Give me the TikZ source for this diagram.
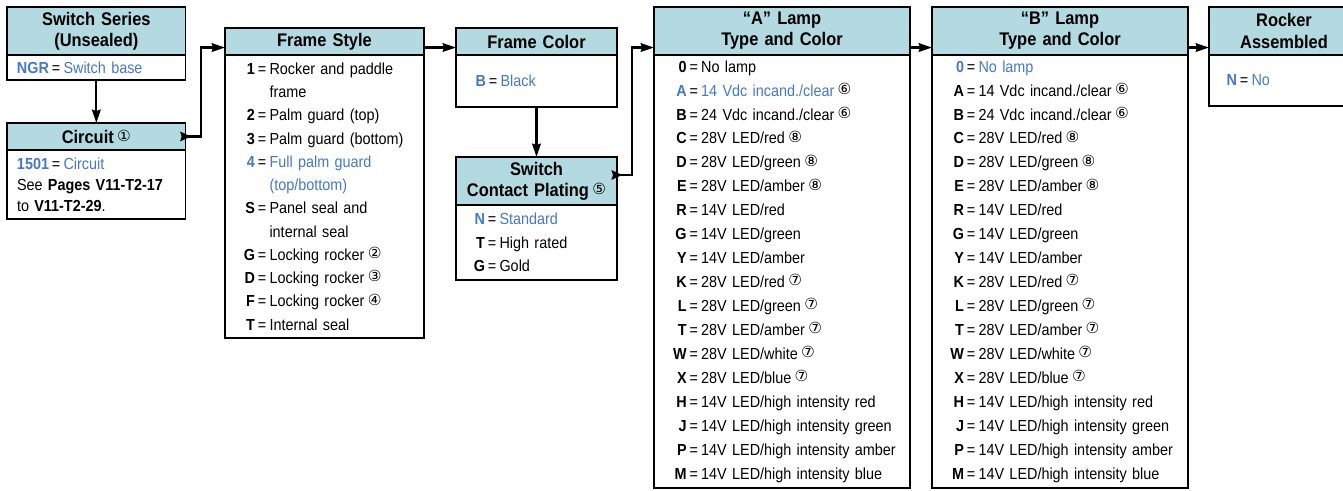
\documentclass[tikz,border=0pt]{standalone}
\usepackage{fontspec}
\setmainfont{Liberation Sans}[FakeStretch=0.9]
\newfontfamily\circfont{DejaVu Sans}
\usetikzlibrary{positioning,arrows.meta}

\definecolor{hdrfill}{RGB}{178,218,224}
\definecolor{optblue}{RGB}{70,120,196}

\newlength{\optind}
\newcommand{\eq}{\hspace{2.2pt}=\hspace{2.4pt}}
\newcommand{\opt}[2]{\hspace*{\optind}\makebox[9pt][r]{\textbf{#1}}\eq #2}
\newcommand{\optb}[2]{\hspace*{\optind}\makebox[9pt][r]{\textbf{\color{optblue}#1}}\eq{\color{optblue}#2}}
\newcommand{\cont}[1]{\hspace*{\optind}\makebox[9pt]{}\phantom{\eq}#1}
\newcommand{\txt}[1]{\hspace*{\optind}#1}
\newcommand{\fn}[1]{\hspace{2.5pt}\raisebox{0.2ex}{\circfont\mdseries\fontsize{11.5}{11.5}\selectfont #1}}

\begin{document}
\begin{tikzpicture}[
    x=0.75pt, y=-0.75pt,
    every node/.style={outer sep=0pt},
    hdr/.style={draw, fill=hdrfill, line width=0.9pt, align=center, inner sep=0pt, font=\fontsize{13.7}{15.8}\selectfont\bfseries},
    body/.style={draw, line width=0.9pt, align=left, inner xsep=2pt, inner ysep=0pt, font=\fontsize{12}{17.7}\selectfont},
    ind/.style={execute at begin node={\setlength{\optind}{#1}}},
    arr/.style={-{Stealth[length=10pt, width=6.5pt, inset=1pt]}, line width=1.6pt},
    arrs/.style={{Stealth[reversed, length=8pt, width=7pt, inset=1pt]}-{Stealth[length=10pt, width=6.5pt, inset=1pt]}, line width=1.6pt}
]
\useasboundingbox (0,0) rectangle (1343,491);

% switch series and circuit
\node[hdr, text width=134pt, minimum height=36pt, anchor=north west] (ssh) at (7,7) {Switch Series\\(Unsealed)};
\node[body, text width=130pt, minimum height=18.75pt, below=0pt of ssh, ind=5.5pt] (ssb) {\txt{\textbf{\color{optblue}NGR}\eq{\color{optblue}Switch base}}};
\node[hdr, text width=134pt, minimum height=20.25pt, below=32.25pt of ssb] (circh) {Circuit\fn{①}};
\node[body, text width=130pt, minimum height=51.75pt, below=0pt of circh, ind=5.5pt, font=\fontsize{12}{15.6}\selectfont] (circb) {\txt{\textbf{\color{optblue}1501}\eq{\color{optblue}Circuit}}\\
    \txt{See \textbf{Pages V11-T2-17}}\\
    \txt{to \textbf{V11-T2-29}.}};

% frame
\node[hdr, text width=149.25pt, minimum height=20.25pt, anchor=north west] (fsh) at (225,28) {Frame Style};
\node[body, text width=145.25pt, minimum height=212.25pt, below=0pt of fsh, ind=11.5pt, font=\fontsize{12}{17.45}\selectfont] (fsb) {\opt{1}{Rocker and paddle}\\
    \cont{frame}\\
    \opt{2}{Palm guard (top)}\\
    \opt{3}{Palm guard (bottom)}\\
    \optb{4}{Full palm guard}\\
    \cont{{\color{optblue}(top/bottom)}}\\
    \opt{S}{Panel seal and}\\
    \cont{internal seal}\\
    \opt{G}{Locking rocker}\fn{②}\\
    \opt{D}{Locking rocker}\fn{③}\\
    \opt{F}{Locking rocker}\fn{④}\\
    \opt{T}{Internal seal}};
\node[hdr, text width=120.75pt, minimum height=20.25pt, right=24pt of fsh] (fch) {Frame Color};
\node[body, text width=116.75pt, minimum height=39pt, below=0pt of fch, ind=11.5pt] (fcb) {\optb{B}{Black}};
\node[hdr, text width=120.75pt, minimum height=36pt, below=37.5pt of fcb] (scph) {Switch\\Contact Plating\fn{⑤}};
\node[body, text width=116.75pt, minimum height=56.25pt, below=0pt of scph, ind=10.75pt] (scpb) {\optb{N}{Standard}\\
    \opt{T}{High rated}\\
    \opt{G}{Gold}};

% lamps
\node[hdr, text width=192pt, minimum height=36pt, anchor=north west] (lah) at (654,7) {“A” Lamp\\Type and Color};
\node[body, text width=188pt, minimum height=324.75pt, below=0pt of lah, ind=13.5pt, font=\fontsize{12}{17.95}\selectfont] (lab) {\opt{0}{No lamp}\\
    \optb{A}{14 Vdc incand./clear}\fn{⑥}\\
    \opt{B}{24 Vdc incand./clear}\fn{⑥}\\
    \opt{C}{28V LED/red}\fn{⑧}\\
    \opt{D}{28V LED/green}\fn{⑧}\\
    \opt{E}{28V LED/amber}\fn{⑧}\\
    \opt{R}{14V LED/red}\\
    \opt{G}{14V LED/green}\\
    \opt{Y}{14V LED/amber}\\
    \opt{K}{28V LED/red}\fn{⑦}\\
    \opt{L}{28V LED/green}\fn{⑦}\\
    \opt{T}{28V LED/amber}\fn{⑦}\\
    \opt{W}{28V LED/white}\fn{⑦}\\
    \opt{X}{28V LED/blue}\fn{⑦}\\
    \opt{H}{14V LED/high intensity red}\\
    \opt{J}{14V LED/high intensity green}\\
    \opt{P}{14V LED/high intensity amber}\\
    \opt{M}{14V LED/high intensity blue}};
\node[hdr, text width=192pt, minimum height=36pt, right=16.5pt of lah] (lbh) {“B” Lamp\\Type and Color};
\node[body, text width=188pt, minimum height=324.75pt, below=0pt of lbh, ind=13pt, font=\fontsize{12}{17.95}\selectfont] (lbb) {\optb{0}{No lamp}\\
    \opt{A}{14 Vdc incand./clear}\fn{⑥}\\
    \opt{B}{24 Vdc incand./clear}\fn{⑥}\\
    \opt{C}{28V LED/red}\fn{⑧}\\
    \opt{D}{28V LED/green}\fn{⑧}\\
    \opt{E}{28V LED/amber}\fn{⑧}\\
    \opt{R}{14V LED/red}\\
    \opt{G}{14V LED/green}\\
    \opt{Y}{14V LED/amber}\\
    \opt{K}{28V LED/red}\fn{⑦}\\
    \opt{L}{28V LED/green}\fn{⑦}\\
    \opt{T}{28V LED/amber}\fn{⑦}\\
    \opt{W}{28V LED/white}\fn{⑦}\\
    \opt{X}{28V LED/blue}\fn{⑦}\\
    \opt{H}{14V LED/high intensity red}\\
    \opt{J}{14V LED/high intensity green}\\
    \opt{P}{14V LED/high intensity amber}\\
    \opt{M}{14V LED/high intensity blue}};

% rocker
\node[hdr, text width=112.5pt, minimum height=36pt, right=15.75pt of lbh] (rah) {Rocker\\Assembled};
\node[body, text width=108.5pt, minimum height=38.25pt, below=0pt of rah, ind=10pt] (rab) {\optb{N}{No}};

% connectors
\draw[arr] (ssb.south) -- (ssb.south |- circh.north);
\draw[arrs] ([xshift=-4pt]circh.east) -- ++(21,0) |- ([yshift=5.6pt]fsh.south west);
\draw[arr] ([yshift=5.6pt]fsh.south east) -- ([yshift=5.6pt]fch.south west);
\draw[arr] (fcb.south) -- (fcb.south |- scph.north);
\draw[arrs] ([xshift=-4pt, yshift=4.5pt]scph.east) -- ++(20,0) |- ([yshift=5.6pt]lah.south west);
\draw[arr] ([yshift=5.6pt]lah.south east) -- ([yshift=5.6pt]lbh.south west);
\draw[arr] ([yshift=5.6pt]lbh.south east) -- ([yshift=5.6pt]rah.south west);
\end{tikzpicture}
\end{document}
